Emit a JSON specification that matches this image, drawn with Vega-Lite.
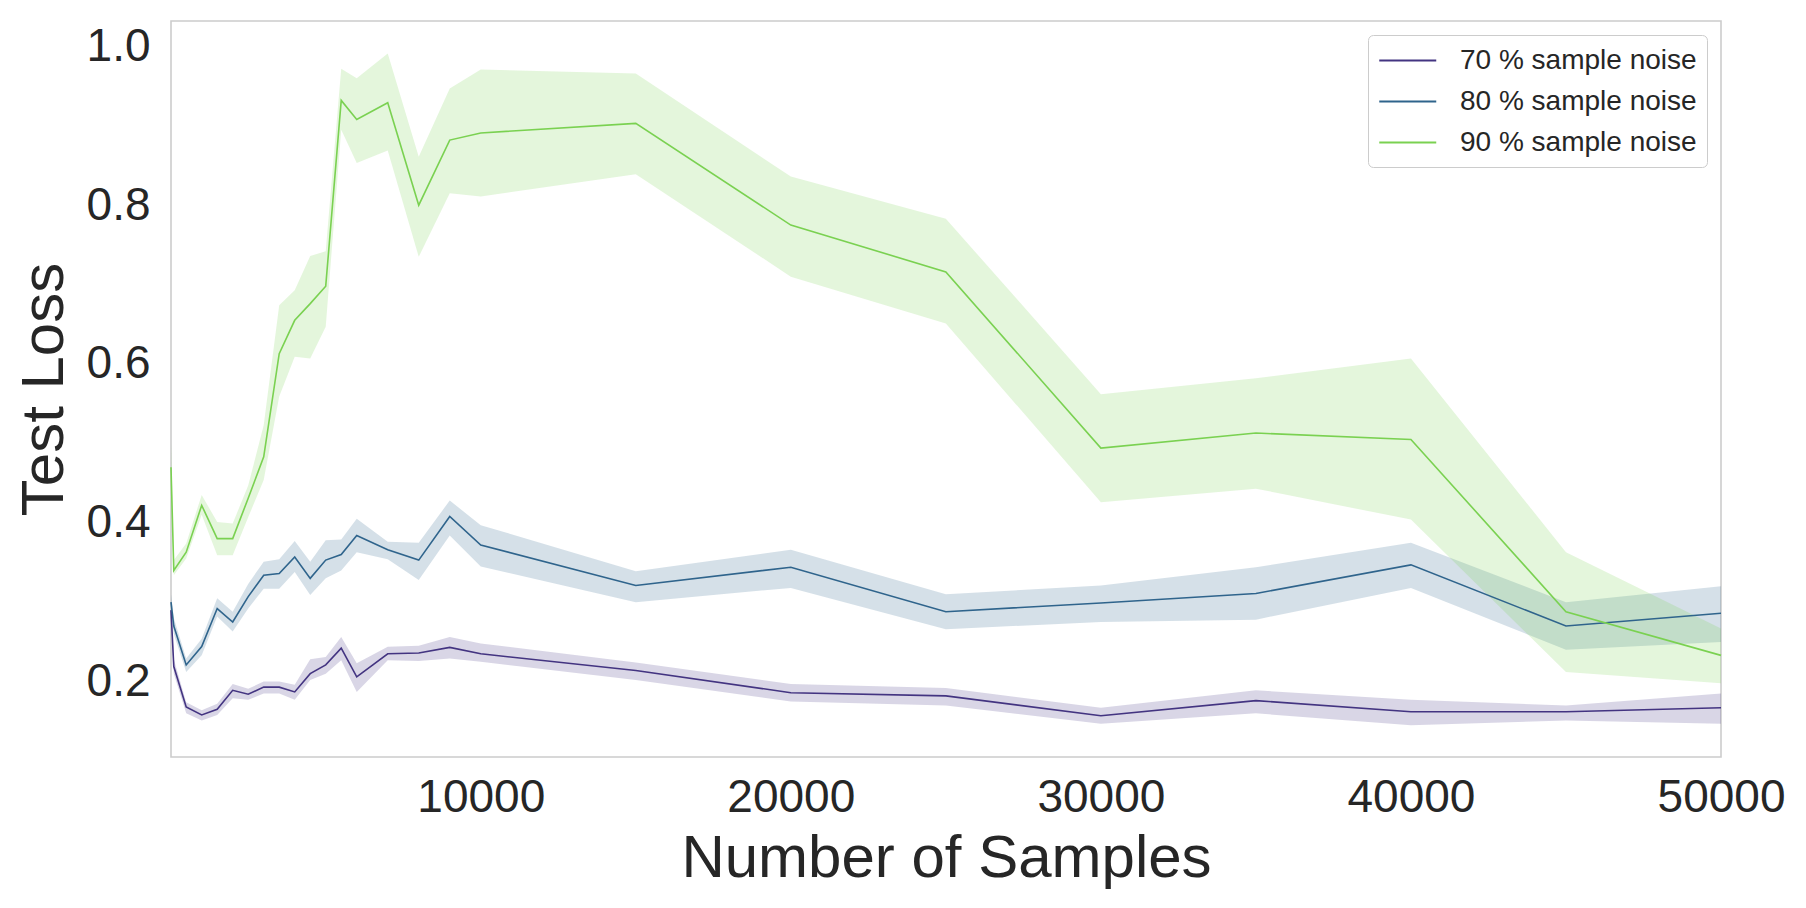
{
  "$schema": "https://vega.github.io/schema/vega-lite/v6.json",
  "width": 1550,
  "height": 736,
  "autosize": {"type": "none"},
  "padding": {"left": 171, "top": 21, "right": 85, "bottom": 151},
  "background": "white",
  "config": {
    "font": "Liberation Sans",
    "view": {"stroke": "#cccccc", "strokeWidth": 1.6},
    "axis": {
      "domain": false,
      "grid": false,
      "ticks": false,
      "labelFont": "Liberation Sans",
      "titleFont": "Liberation Sans",
      "labelColor": "#262626",
      "titleColor": "#262626",
      "labelFontSize": 46,
      "titleFontSize": 60,
      "titleFontWeight": "normal"
    }
  },
  "data": {
    "values": [
      {"n": 10, "series": "70 % sample noise", "loss": 0.29, "lo": 0.28, "hi": 0.30},
      {"n": 100, "series": "70 % sample noise", "loss": 0.219, "lo": 0.210, "hi": 0.228},
      {"n": 500, "series": "70 % sample noise", "loss": 0.168, "lo": 0.160, "hi": 0.174},
      {"n": 1000, "series": "70 % sample noise", "loss": 0.158, "lo": 0.151, "hi": 0.164},
      {"n": 1500, "series": "70 % sample noise", "loss": 0.165, "lo": 0.158, "hi": 0.172},
      {"n": 2000, "series": "70 % sample noise", "loss": 0.189, "lo": 0.179, "hi": 0.197},
      {"n": 2500, "series": "70 % sample noise", "loss": 0.184, "lo": 0.177, "hi": 0.191},
      {"n": 3000, "series": "70 % sample noise", "loss": 0.193, "lo": 0.185, "hi": 0.200},
      {"n": 3500, "series": "70 % sample noise", "loss": 0.193, "lo": 0.185, "hi": 0.200},
      {"n": 4000, "series": "70 % sample noise", "loss": 0.187, "lo": 0.177, "hi": 0.196},
      {"n": 4500, "series": "70 % sample noise", "loss": 0.210, "lo": 0.202, "hi": 0.228},
      {"n": 5000, "series": "70 % sample noise", "loss": 0.221, "lo": 0.210, "hi": 0.231},
      {"n": 5500, "series": "70 % sample noise", "loss": 0.242, "lo": 0.227, "hi": 0.256},
      {"n": 6000, "series": "70 % sample noise", "loss": 0.206, "lo": 0.187, "hi": 0.223},
      {"n": 7000, "series": "70 % sample noise", "loss": 0.235, "lo": 0.227, "hi": 0.244},
      {"n": 8000, "series": "70 % sample noise", "loss": 0.236, "lo": 0.226, "hi": 0.245},
      {"n": 9000, "series": "70 % sample noise", "loss": 0.243, "lo": 0.229, "hi": 0.256},
      {"n": 10000, "series": "70 % sample noise", "loss": 0.235, "lo": 0.225, "hi": 0.248},
      {"n": 15000, "series": "70 % sample noise", "loss": 0.214, "lo": 0.202, "hi": 0.224},
      {"n": 20000, "series": "70 % sample noise", "loss": 0.186, "lo": 0.175, "hi": 0.197},
      {"n": 25000, "series": "70 % sample noise", "loss": 0.182, "lo": 0.170, "hi": 0.192},
      {"n": 30000, "series": "70 % sample noise", "loss": 0.157, "lo": 0.147, "hi": 0.167},
      {"n": 35000, "series": "70 % sample noise", "loss": 0.176, "lo": 0.160, "hi": 0.189},
      {"n": 40000, "series": "70 % sample noise", "loss": 0.162, "lo": 0.145, "hi": 0.177},
      {"n": 45000, "series": "70 % sample noise", "loss": 0.162, "lo": 0.151, "hi": 0.170},
      {"n": 50000, "series": "70 % sample noise", "loss": 0.167, "lo": 0.147, "hi": 0.185},

      {"n": 10, "series": "80 % sample noise", "loss": 0.30, "lo": 0.29, "hi": 0.31},
      {"n": 100, "series": "80 % sample noise", "loss": 0.27, "lo": 0.26, "hi": 0.28},
      {"n": 500, "series": "80 % sample noise", "loss": 0.221, "lo": 0.212, "hi": 0.229},
      {"n": 1000, "series": "80 % sample noise", "loss": 0.244, "lo": 0.233, "hi": 0.254},
      {"n": 1500, "series": "80 % sample noise", "loss": 0.292, "lo": 0.282, "hi": 0.305},
      {"n": 2000, "series": "80 % sample noise", "loss": 0.275, "lo": 0.263, "hi": 0.288},
      {"n": 2500, "series": "80 % sample noise", "loss": 0.307, "lo": 0.292, "hi": 0.323},
      {"n": 3000, "series": "80 % sample noise", "loss": 0.334, "lo": 0.317, "hi": 0.351},
      {"n": 3500, "series": "80 % sample noise", "loss": 0.336, "lo": 0.317, "hi": 0.354},
      {"n": 4000, "series": "80 % sample noise", "loss": 0.357, "lo": 0.338, "hi": 0.377},
      {"n": 4500, "series": "80 % sample noise", "loss": 0.330, "lo": 0.309, "hi": 0.351},
      {"n": 5000, "series": "80 % sample noise", "loss": 0.353, "lo": 0.330, "hi": 0.378},
      {"n": 5500, "series": "80 % sample noise", "loss": 0.360, "lo": 0.340, "hi": 0.379},
      {"n": 6000, "series": "80 % sample noise", "loss": 0.384, "lo": 0.363, "hi": 0.405},
      {"n": 7000, "series": "80 % sample noise", "loss": 0.366, "lo": 0.354, "hi": 0.376},
      {"n": 8000, "series": "80 % sample noise", "loss": 0.353, "lo": 0.328, "hi": 0.375},
      {"n": 9000, "series": "80 % sample noise", "loss": 0.408, "lo": 0.384, "hi": 0.428},
      {"n": 10000, "series": "80 % sample noise", "loss": 0.372, "lo": 0.345, "hi": 0.397},
      {"n": 15000, "series": "80 % sample noise", "loss": 0.321, "lo": 0.300, "hi": 0.339},
      {"n": 20000, "series": "80 % sample noise", "loss": 0.344, "lo": 0.318, "hi": 0.366},
      {"n": 25000, "series": "80 % sample noise", "loss": 0.288, "lo": 0.266, "hi": 0.310},
      {"n": 30000, "series": "80 % sample noise", "loss": 0.299, "lo": 0.275, "hi": 0.321},
      {"n": 35000, "series": "80 % sample noise", "loss": 0.311, "lo": 0.278, "hi": 0.344},
      {"n": 40000, "series": "80 % sample noise", "loss": 0.347, "lo": 0.318, "hi": 0.375},
      {"n": 45000, "series": "80 % sample noise", "loss": 0.270, "lo": 0.240, "hi": 0.300},
      {"n": 50000, "series": "80 % sample noise", "loss": 0.286, "lo": 0.250, "hi": 0.320},

      {"n": 10, "series": "90 % sample noise", "loss": 0.47, "lo": 0.44, "hi": 0.50},
      {"n": 100, "series": "90 % sample noise", "loss": 0.340, "lo": 0.334, "hi": 0.353},
      {"n": 500, "series": "90 % sample noise", "loss": 0.363, "lo": 0.355, "hi": 0.374},
      {"n": 1000, "series": "90 % sample noise", "loss": 0.422, "lo": 0.410, "hi": 0.435},
      {"n": 1500, "series": "90 % sample noise", "loss": 0.380, "lo": 0.359, "hi": 0.401},
      {"n": 2000, "series": "90 % sample noise", "loss": 0.380, "lo": 0.359, "hi": 0.399},
      {"n": 2500, "series": "90 % sample noise", "loss": 0.431, "lo": 0.407, "hi": 0.447},
      {"n": 3000, "series": "90 % sample noise", "loss": 0.483, "lo": 0.454, "hi": 0.523},
      {"n": 3500, "series": "90 % sample noise", "loss": 0.613, "lo": 0.559, "hi": 0.674},
      {"n": 4000, "series": "90 % sample noise", "loss": 0.655, "lo": 0.609, "hi": 0.693},
      {"n": 4500, "series": "90 % sample noise", "loss": 0.676, "lo": 0.607, "hi": 0.736},
      {"n": 5000, "series": "90 % sample noise", "loss": 0.698, "lo": 0.647, "hi": 0.742},
      {"n": 5500, "series": "90 % sample noise", "loss": 0.932, "lo": 0.895, "hi": 0.972},
      {"n": 6000, "series": "90 % sample noise", "loss": 0.908, "lo": 0.853, "hi": 0.960},
      {"n": 7000, "series": "90 % sample noise", "loss": 0.929, "lo": 0.869, "hi": 0.991},
      {"n": 8000, "series": "90 % sample noise", "loss": 0.800, "lo": 0.735, "hi": 0.861},
      {"n": 9000, "series": "90 % sample noise", "loss": 0.882, "lo": 0.815, "hi": 0.947},
      {"n": 10000, "series": "90 % sample noise", "loss": 0.891, "lo": 0.811, "hi": 0.971},
      {"n": 15000, "series": "90 % sample noise", "loss": 0.903, "lo": 0.839, "hi": 0.966},
      {"n": 20000, "series": "90 % sample noise", "loss": 0.775, "lo": 0.710, "hi": 0.836},
      {"n": 25000, "series": "90 % sample noise", "loss": 0.716, "lo": 0.651, "hi": 0.783},
      {"n": 30000, "series": "90 % sample noise", "loss": 0.494, "lo": 0.426, "hi": 0.562},
      {"n": 35000, "series": "90 % sample noise", "loss": 0.513, "lo": 0.443, "hi": 0.582},
      {"n": 40000, "series": "90 % sample noise", "loss": 0.505, "lo": 0.404, "hi": 0.607},
      {"n": 45000, "series": "90 % sample noise", "loss": 0.288, "lo": 0.212, "hi": 0.363},
      {"n": 50000, "series": "90 % sample noise", "loss": 0.233, "lo": 0.198, "hi": 0.267}
    ]
  },
  "encoding": {
    "x": {
      "field": "n",
      "type": "quantitative",
      "title": "Number of Samples",
      "scale": {"domain": [10, 50000], "nice": false, "zero": false},
      "axis": {
        "values": [10000, 20000, 30000, 40000, 50000],
        "format": "d",
        "labelPadding": 18,
        "labelFlush": false,
        "titleBaseline": "alphabetic",
        "titleY": 119
      }
    },
    "color": {
      "field": "series",
      "type": "nominal",
      "title": null,
      "scale": {
        "domain": ["70 % sample noise", "80 % sample noise", "90 % sample noise"],
        "range": ["#433481", "#2f648c", "#7ad151"]
      },
      "legend": {
        "orient": "top-right",
        "offset": 14,
        "symbolType": "M-1,0H3",
        "symbolSize": 812,
        "symbolStrokeWidth": 2,
        "symbolOpacity": 1,
        "labelFont": "Liberation Sans",
        "labelFontSize": 28,
        "labelLimit": 400,
        "labelColor": "#262626",
        "labelOffset": 51,
        "strokeColor": "#cccccc",
        "fillColor": "white",
        "cornerRadius": 5,
        "padding": 10,
        "rowPadding": 11
      }
    }
  },
  "layer": [
    {
      "mark": {"type": "area", "opacity": 0.2},
      "encoding": {
        "y": {"field": "hi", "type": "quantitative"},
        "y2": {"field": "lo"}
      }
    },
    {
      "mark": {"type": "line", "strokeWidth": 1.6},
      "encoding": {
        "y": {
          "field": "loss",
          "type": "quantitative",
          "title": "Test Loss",
          "scale": {"domain": [0.105, 1.032], "nice": false, "zero": false},
          "axis": {
            "values": [0.2, 0.4, 0.6, 0.8, 1.0],
            "format": ".1f",
            "labelPadding": 21,
            "labelFlush": false,
            "titleBaseline": "alphabetic",
            "titleX": -109
          }
        }
      }
    }
  ]
}
